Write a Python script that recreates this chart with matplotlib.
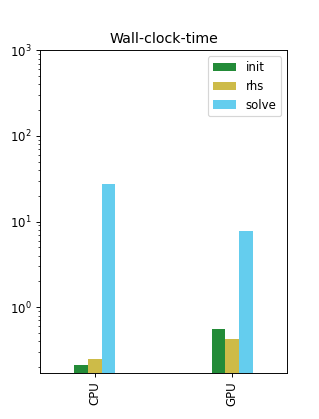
import matplotlib
matplotlib.use("Agg")
import matplotlib.pyplot as plt
import numpy as np

devices = ["CPU", "GPU"]
init = [0.214, 0.56]
rhs = [0.248, 0.423]
solve = [27.8, 7.85]

series = [("init", init, "#238b38"), ("rhs", rhs, "#cdbb48"), ("solve", solve, "#64cdee")]

dpi = 85
fig, ax = plt.subplots(figsize=(319 / dpi, 419 / dpi), dpi=dpi)
x = np.arange(len(devices))
w = 0.1
for i, (name, vals, col) in enumerate(series):
    ax.bar(x + (i - 1) * w, vals, w, label=name, color=col)

ax.set_yscale("log")
ax.set_ylim(0.171, 1000)
ax.set_xlim(-0.4, 1.4)
ax.set_xticks(x)
ax.set_xticklabels(devices, rotation=90)
ax.set_title("Wall-clock-time")
ax.legend(loc="upper right")
plt.savefig("out.png", dpi=dpi)
